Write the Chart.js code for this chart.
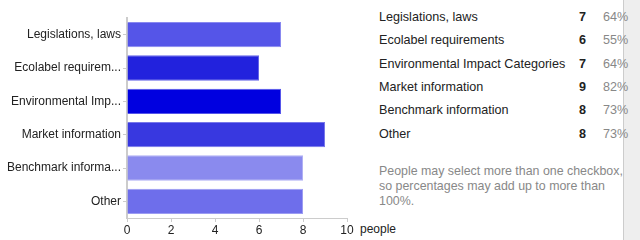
<!DOCTYPE html>
<html>
<head>
<meta charset="utf-8">
<script src="https://cdn.jsdelivr.net/npm/chart.js@4"></script>
<style>
  html, body {
    margin: 0;
    padding: 0;
    background: #fff;
    width: 640px;
    height: 240px;
    overflow: hidden;
    font-family: "Liberation Sans", Arial, sans-serif;
    font-size: 12px;
    color: #222;
  }
  #wrap {
    position: absolute;
    left: 0;
    top: 0;
    width: 360px;
    height: 240px;
  }
  #unit {
    position: absolute;
    left: 360px;
    top: 222px;
    line-height: 14px;
  }
  #summary {
    position: absolute;
    left: 379px;
    top: 10px;
    font-size: 12.6px;
    z-index: 2;
  }
  .row {
    position: absolute;
    left: 0;
    height: 14px;
    line-height: 14px;
    white-space: nowrap;
  }
  .row .name { position: absolute; left: 0; }
  .row .count {
    position: absolute;
    left: 181px;
    width: 26px;
    text-align: right;
    font-weight: bold;
  }
  .row .pct {
    position: absolute;
    left: 224px;
    color: #888;
  }
  #note {
    position: absolute;
    left: 379px;
    top: 164px;
    width: 246px;
    font-size: 12.4px;
    line-height: 15px;
    color: #888;
    z-index: 2;
  }
  #scroll {
    position: absolute;
    left: 623px;
    top: 0;
    width: 17px;
    height: 240px;
    background: #eee;
    border-left: 1px solid #ccc;
    box-sizing: border-box;
    z-index: 1;
  }
</style>
</head>
<body>
<div id="wrap"><canvas id="chart" width="360" height="240"></canvas></div>
<div id="scroll"></div>
<div id="unit">people</div>
<div id="summary"></div>
<div id="note">People may select more than one checkbox, so percentages may add up to more than 100%.</div>

<script>
/* ---------- data ---------- */
const categories = [
  "Legislations, laws",
  "Ecolabel requirements",
  "Environmental Impact Categories",
  "Market information",
  "Benchmark information",
  "Other"
];

const tickLabels = [
  "Legislations, laws",
  "Ecolabel requirem...",
  "Environmental Imp...",
  "Market information",
  "Benchmark informa...",
  "Other"
];

const counts = [7, 6, 7, 9, 8, 8];
const percents = ["64%", "55%", "64%", "82%", "73%", "73%"];

const xTicks = [0, 2, 4, 6, 8, 10];

const barColors = [
  "#5555e8", "#2222dd", "#0000e0",
  "#3838e0", "#8a8aee", "#6e6eeb"
];
const barEdges = [
  "#8888f0", "#6666e8", "#5555ea",
  "#7777ea", "#b0b0f4", "#9c9cf2"
];

/* ---------- summary list ---------- */
const summary = document.getElementById("summary");
categories.forEach((name, i) => {
  const row = document.createElement("div");
  row.className = "row";
  row.style.top = (i * 23.3) + "px";
  row.innerHTML =
    `<span class="name">${name}</span>` +
    `<span class="count">${counts[i]}</span>` +
    `<span class="pct">${percents[i]}</span>`;
  summary.appendChild(row);
});

/* ---------- chart ---------- */
const FONT = "'Liberation Sans', Arial, sans-serif";

new Chart(document.getElementById("chart"), {
  type: "bar",
  data: {
    labels: tickLabels,
    datasets: [{
      data: counts,
      backgroundColor: barColors,
      borderColor: barEdges,
      borderWidth: 1,
      barPercentage: 0.76,
      categoryPercentage: 1
    }]
  },
  options: {
    indexAxis: "y",
    responsive: false,
    animation: false,
    layout: {
      padding: { top: 18, right: 13, left: 0, bottom: 0 }
    },
    plugins: {
      legend: { display: false },
      tooltip: { enabled: false }
    },
    scales: {
      x: {
        min: 0,
        max: 10,
        afterBuildTicks: (scale) => {
          scale.ticks = xTicks.map((v) => ({ value: v }));
        },
        afterFit: (scale) => { scale.height = 22; },
        ticks: {
          color: "#222",
          padding: 1,
          font: { family: FONT, size: 12 }
        },
        grid: {
          drawOnChartArea: false,
          drawTicks: true,
          tickLength: 4,
          color: "#ccc"
        },
        border: { color: "#ccc", width: 1 }
      },
      y: {
        afterFit: (scale) => { scale.width = 127; },
        ticks: {
          color: "#222",
          padding: 2,
          font: { family: FONT, size: 12 }
        },
        grid: {
          drawOnChartArea: false,
          drawTicks: true,
          tickLength: 4,
          color: "#ccc",
          offset: false
        },
        border: { color: "#ccc", width: 2 }
      }
    }
  }
});
</script>
</body>
</html>
